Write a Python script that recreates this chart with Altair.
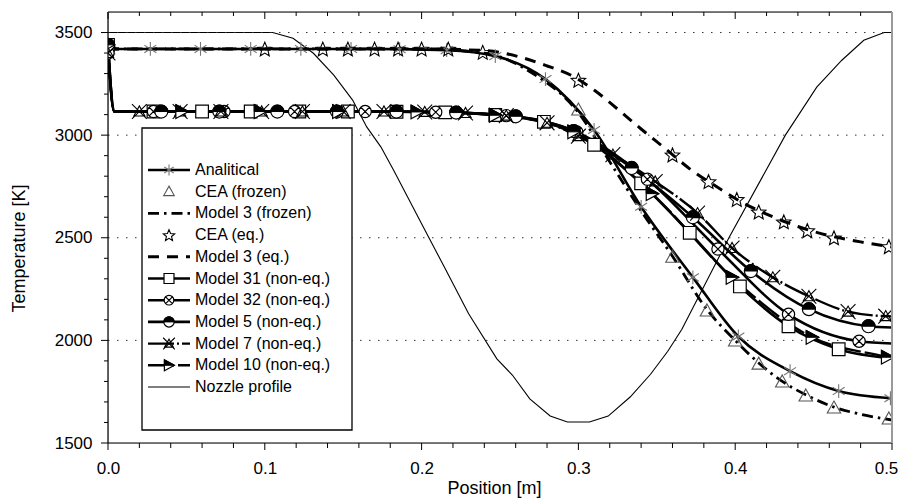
import math
import altair as alt
import pandas as pd

# ---------------- data ----------------
noz_x = [0.0, 0.105, 0.118, 0.131, 0.144, 0.156, 0.165, 0.174, 0.182, 0.191, 0.201, 0.215, 0.23,
         0.248, 0.258, 0.269, 0.282, 0.293, 0.307, 0.319, 0.333, 0.346, 0.357, 0.366, 0.396,
         0.432, 0.452, 0.468, 0.482, 0.495, 0.5]
noz_T = [3500, 3500, 3472, 3399, 3292, 3171, 3040, 2943, 2831, 2700, 2554, 2350, 2130,
         1910, 1830, 1715, 1632, 1602, 1602, 1631, 1724, 1835, 1947, 2054, 2500,
         3000, 3234, 3365, 3462, 3500, 3500]

an_x = [0.0, 0.027, 0.059, 0.091, 0.123, 0.155, 0.186, 0.216, 0.247, 0.279, 0.31, 0.34, 0.373,
        0.402, 0.435, 0.466, 0.499]
an_T = [3420, 3420, 3420, 3420, 3420, 3420, 3419, 3414, 3385, 3273, 3025, 2651, 2307,
        2019, 1850, 1753, 1718]

cf_x = [0.0, 0.30, 0.36, 0.382, 0.40, 0.415, 0.43, 0.445, 0.463, 0.498]
cf_T = [3420, 3122, 2405, 2143, 1997, 1884, 1797, 1729, 1670, 1617]

m3f_x = [0.0, 0.2, 0.24, 0.27, 0.30, 0.32, 0.341, 0.36, 0.382, 0.40, 0.415, 0.43, 0.445, 0.463, 0.48, 0.5]
m3f_T = [3420, 3420, 3400, 3305, 3110, 2870, 2620, 2410, 2150, 2000, 1890, 1800, 1735, 1675, 1640, 1612]

ce_x = [0.0, 0.10, 0.137, 0.153, 0.170, 0.185, 0.200, 0.217, 0.239, 0.30, 0.36, 0.383, 0.401,
        0.415, 0.431, 0.446, 0.463, 0.498]
ce_T = [3420, 3420, 3420, 3420, 3420, 3420, 3420, 3420, 3404, 3268, 2904, 2774, 2687,
        2626, 2578, 2535, 2500, 2457]

m3e_x = [0.0, 0.2, 0.24, 0.263, 0.279, 0.295, 0.31, 0.325, 0.34, 0.355, 0.372, 0.39, 0.405,
         0.42, 0.44, 0.46, 0.48, 0.5]
m3e_T = [3420, 3420, 3412, 3380, 3340, 3293, 3220, 3127, 3030, 2937, 2830, 2740, 2670,
         2615, 2555, 2510, 2480, 2455]

# non-equilibrium models: marker points, chamber drop knot and end value at x = 0.5
drop_x = 0.004
plateau_T = 3115

m31_x = [0.0, 0.029, 0.06, 0.091, 0.122, 0.153, 0.184, 0.215, 0.247, 0.278, 0.31, 0.34, 0.371,
         0.403, 0.434, 0.466]
m31_T = [3440, 3115, 3115, 3115, 3115, 3115, 3114, 3111, 3098, 3065, 2953, 2765, 2524,
         2263, 2069, 1957]
m31_end = 1912

m32_x = [0.0, 0.029, 0.074, 0.119, 0.164, 0.209, 0.254, 0.299, 0.344, 0.389, 0.434, 0.479]
m32_T = [3400, 3115, 3115, 3115, 3115, 3112, 3095, 3015, 2785, 2445, 2127, 1996]
m32_end = 1985

m5_x = [0.0, 0.034, 0.071, 0.108, 0.146, 0.184, 0.222, 0.26, 0.297, 0.334, 0.373, 0.41, 0.447, 0.485]
m5_T = [3440, 3115, 3115, 3115, 3115, 3115, 3110, 3092, 3020, 2840, 2600, 2338, 2152, 2069]
m5_end = 2063

m7_x = [0.0, 0.02, 0.046, 0.072, 0.098, 0.124, 0.15, 0.176, 0.202, 0.228, 0.254, 0.28, 0.3,
        0.322, 0.349, 0.376, 0.398, 0.424, 0.447, 0.472, 0.496]
m7_T = [3400, 3115, 3115, 3115, 3115, 3115, 3115, 3115, 3113, 3108, 3095, 3060, 2995,
        2905, 2774, 2620, 2450, 2307, 2215, 2140, 2118]
m7_end = 2117

m10_x = [0.0, 0.047, 0.097, 0.147, 0.197, 0.247, 0.297, 0.347, 0.398, 0.449, 0.497]
m10_T = [3440, 3115, 3115, 3115, 3113, 3097, 3016, 2715, 2307, 2015, 1918]
m10_end = 1912

legend_labels = ["Analitical", "CEA (frozen)", "Model 3 (frozen)", "CEA (eq.)", "Model 3 (eq.)",
                 "Model 31 (non-eq.)", "Model 32 (non-eq.)", "Model 5 (non-eq.)",
                 "Model 7 (non-eq.)", "Model 10 (non-eq.)", "Nozzle profile"]

x_major = [0.0, 0.1, 0.2, 0.3, 0.4, 0.5]
x_minor = [0.02, 0.04, 0.06, 0.08, 0.12, 0.14, 0.16, 0.18, 0.22, 0.24, 0.26, 0.28,
           0.32, 0.34, 0.36, 0.38, 0.42, 0.44, 0.46, 0.48]
y_major = [1500, 2000, 2500, 3000, 3500]
y_minor = [1600, 1700, 1800, 1900, 2100, 2200, 2300, 2400, 2600, 2700, 2800, 2900,
           3100, 3200, 3300, 3400]
grid_T = [2000, 2500, 3000, 3500]

# ---------------- layout / style ----------------
W, H = 784, 431
FONT = "Liberation Sans"
xs = alt.Scale(domain=[0, 0.5], nice=False, zero=False)
ys = alt.Scale(domain=[1500, 3600], nice=False, zero=False)
ONE = pd.DataFrame({"k": [0]})

axis_common = dict(labelFont=FONT, labelFontSize=17, labelColor="black", titleFont=FONT,
                   titleFontSize=18, titleFontWeight="normal", titleColor="black",
                   domain=False, grid=False, ticks=False, labelFlush=False)
XAX = alt.Axis(values=x_major, format=".1f", title="Position [m]",
               labelPadding=17, titlePadding=3, titleX=386,
               labelOffset={"condition": {"test": "datum.value >= 0.5", "value": -6}, "value": 0},
               **axis_common)
YAX = alt.Axis(values=y_major, format="d", title="Temperature [K]",
               labelPadding=16, titleX=-80, titleY=236, **axis_common)


def XE():
    return alt.X("x:Q", scale=xs, axis=XAX)


def YE():
    return alt.Y("T:Q", scale=ys, axis=YAX)


def star_path(points=5, inner=0.45):
    pts = []
    for k in range(2 * points):
        r = 1.0 if k % 2 == 0 else inner
        a = -math.pi / 2 + k * math.pi / points
        pts.append(f"{r * math.cos(a):.3f},{r * math.sin(a) + 0.1:.3f}")
    return "M" + "L".join(pts) + "Z"


ASTER = "M0,-1L0,1M-0.87,-0.55L0.87,0.55M-0.87,0.55L0.87,-0.55"
TRI = "M0,-1L0.95,0.7L-0.95,0.7Z"
STAR = star_path()
HALF_TOP = "M-1,0A1,1,0,0,1,1,0Z"
TRI_R = "M-0.85,-1L1,0L-0.85,1Z"
TRI_R_TOP = "M-0.85,-1L1,0L-0.85,0Z"
OCROSS = "M-1,0A1,1,0,1,1,1,0A1,1,0,1,1,-1,0ZM-0.7,-0.7L0.7,0.7M-0.7,0.7L0.7,-0.7"
XTRI = "M-1,-1L1,1M-1,1L1,-1M-0.75,0.6L0,-0.75L0.75,0.6Z"

open_blk = dict(filled=False, stroke="black", color="black", strokeWidth=1.1)
white_blk = dict(filled=True, fill="white", stroke="black", strokeWidth=1.2)
black_fill = dict(filled=True, fill="black", stroke="black", strokeWidth=1.0)

styles = {
    "Analitical": dict(line=dict(strokeWidth=2.6),
                       marks=[dict(shape=ASTER, size=190, filled=False, stroke="#777777", color="#777777", strokeWidth=1.1)]),
    "CEA (frozen)": dict(line=None,
                         marks=[dict(shape=TRI, size=200, filled=False, stroke="#555555", color="#555555", strokeWidth=1.1)]),
    "Model 3 (frozen)": dict(line=dict(strokeWidth=2.8, strokeDash=[11, 5, 2.5, 5]), marks=[]),
    "CEA (eq.)": dict(line=None, marks=[dict(shape=STAR, size=230, **open_blk)]),
    "Model 3 (eq.)": dict(line=dict(strokeWidth=3, strokeDash=[11, 8]), marks=[]),
    "Model 31 (non-eq.)": dict(line=dict(strokeWidth=2.6), marks=[dict(shape="square", size=160, **white_blk)]),
    "Model 32 (non-eq.)": dict(line=dict(strokeWidth=2.6), marks=[dict(shape=OCROSS, size=150, **white_blk)]),
    "Model 5 (non-eq.)": dict(line=dict(strokeWidth=2.6),
                              marks=[dict(shape="circle", size=170, **white_blk),
                                     dict(shape=HALF_TOP, size=170, **black_fill)]),
    "Model 7 (non-eq.)": dict(line=dict(strokeWidth=2.4, strokeDash=[26, 3, 2, 3]),
                              marks=[dict(shape=XTRI, size=220, **open_blk)]),
    "Model 10 (non-eq.)": dict(line=dict(strokeWidth=2.4, strokeDash=[26, 4]),
                               marks=[dict(shape=TRI_R, size=190, **white_blk),
                                      dict(shape=TRI_R_TOP, size=190, **black_fill)]),
    "Nozzle profile": dict(line=dict(strokeWidth=1.1), marks=[]),
}


def noneq_line(x, T, end):
    return [x[0], drop_x] + x[1:] + [0.5], [T[0], plateau_T] + T[1:] + [end]


lines = {
    "Analitical": (an_x, an_T),
    "Model 3 (frozen)": (m3f_x, m3f_T),
    "Model 3 (eq.)": (m3e_x, m3e_T),
    "Model 31 (non-eq.)": noneq_line(m31_x, m31_T, m31_end),
    "Model 32 (non-eq.)": noneq_line(m32_x, m32_T, m32_end),
    "Model 5 (non-eq.)": noneq_line(m5_x, m5_T, m5_end),
    "Model 7 (non-eq.)": noneq_line(m7_x, m7_T, m7_end),
    "Model 10 (non-eq.)": noneq_line(m10_x, m10_T, m10_end),
}
markers = {
    "Analitical": (an_x, an_T),
    "CEA (frozen)": (cf_x, cf_T),
    "CEA (eq.)": (ce_x, ce_T),
    "Model 31 (non-eq.)": (m31_x, m31_T),
    "Model 32 (non-eq.)": (m32_x, m32_T),
    "Model 5 (non-eq.)": (m5_x, m5_T),
    "Model 7 (non-eq.)": (m7_x, m7_T),
    "Model 10 (non-eq.)": (m10_x, m10_T),
}

layers = []

# nozzle profile
noz_df = pd.DataFrame({"x": noz_x, "T": noz_T})
layers.append(
    alt.Chart(noz_df).mark_line(color="black", clip=True, **styles["Nozzle profile"]["line"]).encode(
        x=XE(), y=YE())
)

# dotted grid lines
layers.append(
    alt.Chart(pd.DataFrame({"T": grid_T})).mark_rule(color="#333333", strokeWidth=1, strokeDash=[1.5, 7.5]).encode(
        y=YE(), x=alt.value(0), x2=alt.value(W)
    )
)

# series lines
for name, (x, T) in lines.items():
    df = pd.DataFrame({"x": x, "T": T})
    layers.append(
        alt.Chart(df).mark_line(color="black", interpolate="monotone", clip=True, **styles[name]["line"]).encode(
            x=XE(), y=YE())
    )

# series markers
for name, (x, T) in markers.items():
    df = pd.DataFrame({"x": x, "T": T})
    for mk in styles[name]["marks"]:
        layers.append(
            alt.Chart(df).mark_point(opacity=1, clip=True, **mk).encode(x=XE(), y=YE())
        )


# ticks (bottom/left outward, top inward) and frame
def vticks(vals, y0, y1):
    return alt.Chart(pd.DataFrame({"x": vals})).mark_rule(color="black", strokeWidth=1).encode(
        x=XE(), y=alt.value(y0), y2=alt.value(y1))


def hticks(vals, x0, x1):
    return alt.Chart(pd.DataFrame({"T": vals})).mark_rule(color="black", strokeWidth=1).encode(
        y=YE(), x=alt.value(x0), x2=alt.value(x1))


layers += [vticks(x_major, H, H + 7), vticks(x_minor, H, H + 5),
           vticks(x_major, 0, 7), vticks(x_minor, 0, 4),
           hticks(y_major, 0, -7), hticks(y_minor, 0, -4)]

frame = alt.Chart(ONE)
layers += [
    frame.mark_rule(color="black", strokeWidth=1.2).encode(x=alt.value(0), x2=alt.value(W), y=alt.value(0)),
    frame.mark_rule(color="black", strokeWidth=1.2).encode(x=alt.value(0), x2=alt.value(W), y=alt.value(H)),
    frame.mark_rule(color="black", strokeWidth=1.2).encode(x=alt.value(0), y=alt.value(0), y2=alt.value(H)),
    frame.mark_rule(color="#9a9a9a", strokeWidth=2).encode(x=alt.value(W), y=alt.value(0), y2=alt.value(H)),
]

# legend (manual)
LX0, LX1, LY0, LY1 = 34, 244, 116, 418
ROW0, ROWSTEP = 158, 21.7
layers.append(
    frame.mark_rect(fill="white", stroke="black", strokeWidth=1.3).encode(
        x=alt.value(LX0), x2=alt.value(LX1), y=alt.value(LY0), y2=alt.value(LY1))
)
for i, name in enumerate(legend_labels):
    yy = ROW0 + i * ROWSTEP
    st = styles[name]
    if st["line"] is not None:
        layers.append(frame.mark_rule(color="black", **st["line"]).encode(
            x=alt.value(40), x2=alt.value(82), y=alt.value(yy)))
    for mk in st["marks"]:
        mk2 = dict(mk)
        mk2["size"] = mk["size"] * 0.62
        layers.append(frame.mark_point(opacity=1, **mk2).encode(x=alt.value(61), y=alt.value(yy)))

for i, lab in enumerate(legend_labels):
    layers.append(
        frame.mark_text(align="left", baseline="middle", font=FONT, fontSize=16, color="black", text=lab).encode(
            x=alt.value(87), y=alt.value(ROW0 + i * ROWSTEP))
    )

chart = alt.layer(*layers).properties(
    width=W, height=H,
    autosize=alt.AutoSizeParams(type="none"),
    padding={"left": 100, "top": 4, "right": 6, "bottom": 59},
).configure_view(stroke=None).configure(background="white")

chart.save("out.html", embed_options={"renderer": "svg", "actions": False})
